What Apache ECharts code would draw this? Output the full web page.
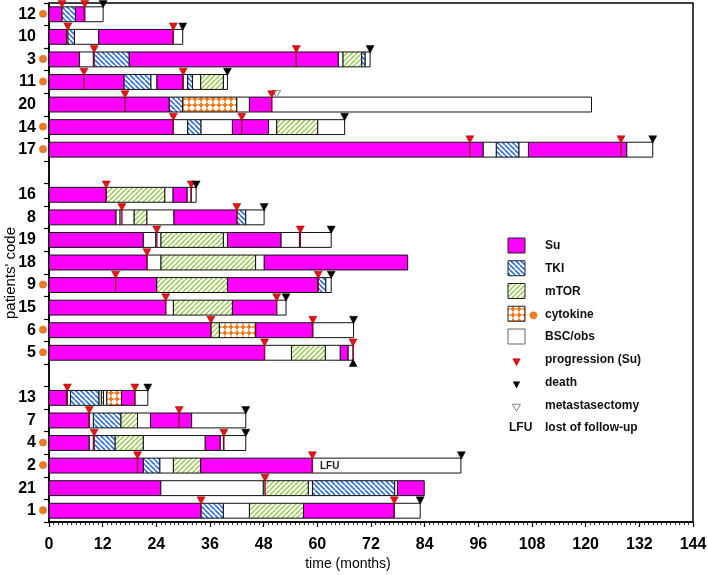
<!DOCTYPE html>
<html><head><meta charset="utf-8">
<script src="https://cdn.jsdelivr.net/npm/echarts@6/dist/echarts.min.js"></script>
<style>html,body{margin:0;padding:0;background:#fff}#c{width:708px;height:575px}</style>
</head><body><div id="c"></div><script>
// ---------------- DATA ----------------
const rowCodes = ['12','10','3','11','20','14','17','','16','8','19','18','9','15','6','5',' ','13','7','4','2','21','1'];
const xTickValues = [0,12,24,36,48,60,72,84,96,108,120,132,144];
const treatmentTypes = ['Su','TKI','mTOR','cytokine','BSC/obs'];

// treatment segments per patient: [type, start month, end month]
const p12 = [['Su',0,2.8],['TKI',2.8,5.9],['Su',5.9,7.9],['BSC/obs',7.9,12.1]];
const p10 = [['Su',0,3.9],['TKI',3.9,5.7],['BSC/obs',5.7,11.1],['Su',11.1,27.8],['BSC/obs',27.8,29.9]];
const p3  = [['Su',0,6.8],['BSC/obs',6.8,9.9],['TKI',9.9,17.9],['Su',17.9,64.7],['BSC/obs',64.7,65.7],['mTOR',65.7,69.9],['TKI',69.9,70.7],['BSC/obs',70.7,71.8]];
const p11 = [['Su',0,16.8],['TKI',16.8,22.8],['BSC/obs',22.8,24.1],['Su',24.1,30.0],['BSC/obs',30.0,31.0],['TKI',31.0,32.1],['BSC/obs',32.1,33.9],['mTOR',33.9,39.0],['BSC/obs',39.0,39.9]];
const p20 = [['Su',0,26.9],['TKI',26.9,29.9],['cytokine',29.9,42.0],['BSC/obs',42.0,44.8],['Su',44.8,49.8],['BSC/obs',49.8,121.3]];
const p14 = [['Su',0,27.8],['BSC/obs',27.8,31.0],['TKI',31.0,34.0],['BSC/obs',34.0,41.0],['Su',41.0,49.1],['BSC/obs',49.1,50.9],['mTOR',50.9,60.1],['BSC/obs',60.1,66.1]];
const p17 = [['Su',0,97.1],['BSC/obs',97.1,100.0],['TKI',100.0,105.1],['BSC/obs',105.1,107.2],['Su',107.2,129.2],['BSC/obs',129.2,135.0]];
const p16 = [['Su',0,12.8],['mTOR',12.8,25.9],['BSC/obs',25.9,27.7],['Su',27.7,30.9],['BSC/obs',30.9,31.8],['BSC/obs',31.8,32.9]];
const p8  = [['Su',0,15.0],['BSC/obs',15.0,15.9],['BSC/obs',15.9,19.0],['mTOR',19.0,21.9],['BSC/obs',21.9,27.9],['Su',27.9,42.0],['TKI',42.0,44.0],['BSC/obs',44.0,48.1]];
const p19 = [['Su',0,21.1],['BSC/obs',21.1,23.9],['BSC/obs',23.9,25.0],['mTOR',25.0,39.0],['BSC/obs',39.0,39.9],['Su',39.9,51.9],['BSC/obs',51.9,56.0],['BSC/obs',56.0,63.1]];
const p18 = [['Su',0,21.9],['BSC/obs',21.9,25.0],['mTOR',25.0,46.2],['BSC/obs',46.2,48.1],['Su',48.1,80.2]];
const p9  = [['Su',0,24.1],['mTOR',24.1,39.9],['Su',39.9,60.1],['TKI',60.1,61.9],['BSC/obs',61.9,63.1]];
const p15 = [['Su',0,26.1],['BSC/obs',26.1,27.8],['mTOR',27.8,41.0],['Su',41.0,50.9],['BSC/obs',50.9,53.0]];
const p6  = [['Su',0,36.2],['mTOR',36.2,38.1],['cytokine',38.1,46.2],['Su',46.2,58.9],['BSC/obs',58.9,68.1]];
const p5  = [['Su',0,48.2],['BSC/obs',48.2,54.2],['mTOR',54.2,61.8],['BSC/obs',61.8,65.1],['Su',65.1,66.9],['BSC/obs',66.9,68.0]];
const p13 = [['Su',0,3.9],['BSC/obs',3.9,4.8],['TKI',4.8,11.2],['BSC/obs',11.2,11.7],['mTOR',11.7,12.2],['BSC/obs',12.2,12.9],['cytokine',12.9,16.2],['Su',16.2,19.2],['BSC/obs',19.2,22.1]];
const p7  = [['Su',0,9.0],['BSC/obs',9.0,9.9],['TKI',9.9,16.1],['mTOR',16.1,19.8],['BSC/obs',19.8,22.7],['Su',22.7,31.9],['BSC/obs',31.9,44.0]];
const p4  = [['Su',0,9.0],['BSC/obs',9.0,9.9],['TKI',9.9,14.8],['mTOR',14.8,21.1],['BSC/obs',21.1,34.9],['Su',34.9,38.3],['BSC/obs',38.3,39.0],['BSC/obs',39.0,44.0]];
const p2  = [['Su',0,21.1],['TKI',21.1,24.8],['BSC/obs',24.8,27.8],['mTOR',27.8,33.9],['Su',33.9,58.9],['BSC/obs',58.9,92.1]];
const p21 = [['Su',0,25.0],['BSC/obs',25.0,47.9],['mTOR',47.9,58.0],['BSC/obs',58.0,58.9],['TKI',58.9,77.3],['BSC/obs',77.3,77.9],['Su',77.9,83.9]];
const p1  = [['Su',0,33.9],['TKI',33.9,39.0],['BSC/obs',39.0,44.8],['mTOR',44.8,56.9],['Su',56.9,77.2],['BSC/obs',77.2,83.0]];

// events: [patient code, month]
const progression = [['12',2.9],['12',8.0],['10',4.2],['10',27.8],['3',10.1],['3',55.3],['11',7.8],['11',30.0],
  ['20',17.0],['20',49.8],['14',27.8],['14',43.1],['17',94.1],['17',127.9],['16',12.8],['16',31.8],['8',16.3],['8',42.0],
  ['19',24.1],['19',56.2],['18',21.9],['9',14.9],['9',60.2],['15',26.1],['15',50.9],['6',36.2],['6',59.0],['5',48.2],['5',68.0],
  ['13',4.1],['13',19.2],['7',9.0],['7',29.1],['4',10.1],['4',39.1],['2',19.8],['2',58.9],['21',48.3],['1',34.0],['1',77.2]];
const death = [['12',12.1],['10',29.9],['3',71.8],['11',39.9],['14',66.1],['17',135.0],['16',32.9],['8',48.1],['19',63.1],
  ['9',63.1],['15',53.0],['6',68.1],['5',68.0],['13',22.1],['7',44.0],['4',44.0],['2',92.2],['1',83.0]];
const metastasectomy = [['20',50.9]];
const lostFollowUp = [['2',58.9]];
const priorCytokine = ['12','3','11','14','17','9','6','5','4','2','1'];

// ---------------- BUILD ----------------
const patientSegments = {'12':p12,'10':p10,'3':p3,'11':p11,'20':p20,'14':p14,'17':p17,'16':p16,'8':p8,'19':p19,'18':p18,
  '9':p9,'15':p15,'6':p6,'5':p5,'13':p13,'7':p7,'4':p4,'2':p2,'21':p21,'1':p1};
const rowOf = c => rowCodes.indexOf(c);
const FONT = "'Liberation Sans', Arial, sans-serif";

function makePattern(size, draw){
  const cv = document.createElement('canvas');
  cv.width = size; cv.height = size;
  const g = cv.getContext('2d');
  g.fillStyle = '#fff'; g.fillRect(0,0,size,size);
  draw(g, size);
  return {image: cv, repeat: 'repeat'};
}
const tkiFill = makePattern(5, (g,s)=>{
  g.strokeStyle = '#2f6fe0'; g.lineWidth = 1.6;
  for (const k of [-s,0,s]) { g.beginPath(); g.moveTo(k,0); g.lineTo(k+s,s); g.stroke(); }
});
const mtorFill = makePattern(5, (g,s)=>{
  g.strokeStyle = '#93c84a'; g.lineWidth = 1.5;
  for (const k of [-s,0,s]) { g.beginPath(); g.moveTo(k,s); g.lineTo(k+s,0); g.stroke(); }
});
const cytoFill = makePattern(6, (g,s)=>{
  g.fillStyle = '#f07a1c';
  g.fillRect(0.5,2,5,2); g.fillRect(2,0.5,2,5);
});
const typeFill = {'Su':'#ff00ff','TKI':tkiFill,'mTOR':mtorFill,'cytokine':cytoFill,'BSC/obs':'#ffffff'};

const BAR = 0.66;
const segSeries = treatmentTypes.map(t => {
  const data = [];
  Object.keys(patientSegments).forEach(code => {
    patientSegments[code].forEach(s => { if (s[0] === t) data.push([s[1], s[2], rowOf(code)]); });
  });
  return {
    type:'custom', name:t, z:2, data, encode:{x:[0,1], y:2},
    renderItem:(params, api) => {
      const a = api.coord([api.value(0), api.value(2)]);
      const b = api.coord([api.value(1), api.value(2)]);
      const h = api.size([0,1])[1]*BAR;
      return {type:'rect', shape:{x:a[0], y:a[1]-h/2, width:b[0]-a[0], height:h},
        style:{fill:typeFill[t], stroke:'#111', lineWidth:1}};
    }
  };
});

function tri(x, yBase, up, w, h){
  return up ? [[x-w/2, yBase+h],[x+w/2, yBase+h],[x, yBase]] : [[x-w/2, yBase-h],[x+w/2, yBase-h],[x, yBase]];
}

const progSeries = {
  type:'custom', name:'progression (Su)', z:5, data: progression.map(p=>[p[1], rowOf(p[0])]), encode:{x:0,y:1},
  renderItem:(params, api) => {
    const p = api.coord([api.value(0), api.value(1)]);
    const h = api.size([0,1])[1]*BAR;
    const top = p[1]-h/2;
    return {type:'group', children:[
      {type:'line', shape:{x1:p[0], y1:top, x2:p[0], y2:top+h}, style:{stroke:'#8a0a30', lineWidth:1.4}},
      {type:'polygon', shape:{points:tri(p[0], top+1, false, 8, 7.4)}, style:{fill:'#e3121b', stroke:'#a00000', lineWidth:0.5}}
    ]};
  }
};
const deathSeries = {
  type:'custom', name:'death', z:5,
  data: death.map(d => [d[1], rowOf(d[0]), progression.some(p => p[0]===d[0] && Math.abs(p[1]-d[1])<0.5) ? 1 : 0]),
  encode:{x:0,y:1},
  renderItem:(params, api) => {
    const p = api.coord([api.value(0), api.value(1)]);
    const h = api.size([0,1])[1]*BAR;
    const below = api.value(2) === 1;
    const pts = below ? tri(p[0], p[1]+h/2-1, true, 8, 7.4) : tri(p[0], p[1]-h/2+1, false, 8, 7.4);
    return {type:'polygon', shape:{points:pts}, style:{fill:'#000', stroke:'#000', lineWidth:0.5}};
  }
};
const metaSeries = {
  type:'custom', name:'metastasectomy', z:4, data: metastasectomy.map(m=>[m[1], rowOf(m[0])]), encode:{x:0,y:1},
  renderItem:(params, api) => {
    const p = api.coord([api.value(0), api.value(1)]);
    const h = api.size([0,1])[1]*BAR;
    return {type:'polygon', shape:{points:tri(p[0], p[1]-h/2+0.5, false, 8, 7)}, style:{fill:'#fff', stroke:'#666', lineWidth:0.8}};
  }
};
const lfuSeries = {
  type:'custom', name:'LFU', z:5, data: lostFollowUp.map(m=>[m[1], rowOf(m[0])]), encode:{x:0,y:1},
  renderItem:(params, api) => {
    const p = api.coord([api.value(0), api.value(1)]);
    return {type:'text', x:p[0]+7.5, y:p[1]+0.5, style:{text:'LFU', fill:'#222', font:'bold 10px '+FONT, verticalAlign:'middle', align:'left'}};
  }
};
const dotSeries = {
  type:'custom', name:'prior cytokine', z:6, clip:false, data: priorCytokine.map(c=>[0, rowOf(c)]), encode:{x:0,y:1},
  renderItem:(params, api) => {
    const p = api.coord([api.value(0), api.value(1)]);
    return {type:'circle', shape:{cx:p[0]-6, cy:p[1]-0.5, r:3.6}, style:{fill:'#f07c22', stroke:'#c55a10', lineWidth:0.5}};
  }
};

// legend (drawn as graphic)
const legX = 508, legTextX = 545, legY0 = 246, legStep = 22.75;
const legendGraphics = [];
const legendLabels = ['Su','TKI','mTOR','cytokine','BSC/obs','progression (Su)','death','metastasectomy','lost of follow-up'];
legendLabels.forEach((lab, i) => {
  const y = legY0 + i*legStep;
  if (i < 5) {
    legendGraphics.push({type:'rect', shape:{x:legX, y:y-8, width:17, height:15},
      style:{fill:typeFill[treatmentTypes[i]], stroke: i===4 ? '#666' : '#222', lineWidth:1}});
  } else if (i === 5) {
    legendGraphics.push({type:'polygon', shape:{points:tri(legX+8.5, y+6, false, 7.4, 7)}, style:{fill:'#e3121b', stroke:'#a00000', lineWidth:0.5}});
  } else if (i === 6) {
    legendGraphics.push({type:'polygon', shape:{points:tri(legX+8.5, y+6, false, 7.4, 7)}, style:{fill:'#000'}});
  } else if (i === 7) {
    legendGraphics.push({type:'polygon', shape:{points:tri(legX+8.5, y+6, false, 8, 7)}, style:{fill:'#fff', stroke:'#666', lineWidth:0.8}});
  } else {
    legendGraphics.push({type:'text', x:legX+1, y:y, style:{text:'LFU', fill:'#111', font:'bold 12px '+FONT, verticalAlign:'middle'}});
  }
  if (i === 3) legendGraphics.push({type:'circle', shape:{cx:legX+25.5, cy:y+1, r:3.8}, style:{fill:'#f07c22'}});
  legendGraphics.push({type:'text', x:legTextX, y:y, style:{text:lab, fill:'#111', font:'bold 12px '+FONT, verticalAlign:'middle'}});
});

const chart = echarts.init(document.getElementById('c'), null, {renderer:'canvas'});
chart.setOption({
  animation:false,
  backgroundColor:'#fff',
  grid:{left:49, right:15, top:3, bottom:53, show:true, borderColor:'#000', borderWidth:1.5, containLabel:false, outerBoundsMode:'none'},
  xAxis:{
    type:'value', min:xTickValues[0], max:xTickValues[xTickValues.length-1], interval:12,
    axisLine:{show:true, onZero:false, lineStyle:{color:'#000', width:1.5}},
    axisTick:{show:true, length:5, lineStyle:{color:'#000', width:1.2}},
    minorTick:{show:true, splitNumber:12, length:3, lineStyle:{color:'#000', width:0.8}},
    splitLine:{show:false},
    axisLabel:{color:'#000', fontSize:16, fontWeight:'bold', fontFamily:FONT, margin:15}
  },
  yAxis:{
    type:'category', data:rowCodes, inverse:true,
    axisLine:{show:true, lineStyle:{color:'#000', width:1.5}},
    axisTick:{show:true, length:5, interval:0, lineStyle:{color:'#000', width:1.2}},
    splitLine:{show:false},
    axisLabel:{color:'#000', fontSize:16, fontWeight:'bold', fontFamily:FONT, margin:13, interval:0}
  },
  graphic:[
    {type:'text', x:348, y:564, style:{text:'time (months)', fill:'#000', font:'14px '+FONT, align:'center', verticalAlign:'middle'}},
    {type:'text', x:11, y:273, rotation:Math.PI/2, style:{text:"patients' code", fill:'#000', font:'15px '+FONT, align:'center', verticalAlign:'middle'}},
    ...legendGraphics
  ],
  series:[...segSeries, progSeries, deathSeries, metaSeries, lfuSeries, dotSeries]
});
</script></body></html>
